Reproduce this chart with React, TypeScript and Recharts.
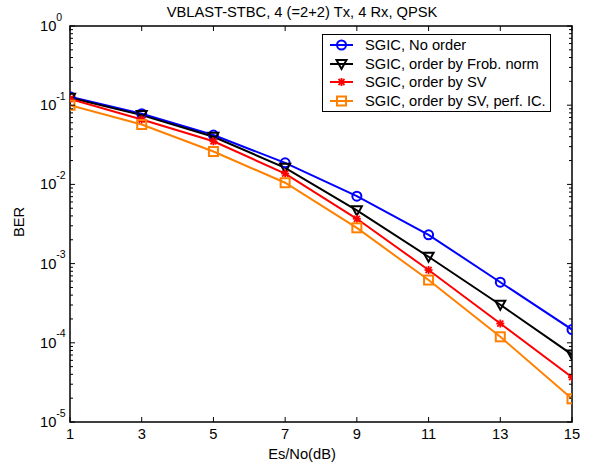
import React from "react";
import { LineChart, Line, XAxis, YAxis, Legend, ReferenceArea } from "recharts";

// Es/No points and BER curves
const snrDb = [1, 3, 5, 7, 9, 11, 13, 15];
const berNoOrder = [0.128, 0.078, 0.042, 0.0187, 0.0071, 0.00231, 0.000582, 0.000147];
const berFrobNorm = [0.124, 0.075, 0.04, 0.0162, 0.0047, 0.00122, 0.000302, 0.000071];
const berSv = [0.12, 0.066, 0.035, 0.0137, 0.00368, 0.00083, 0.000175, 0.0000368];
const berSvPerfIc = [0.1, 0.057, 0.026, 0.0105, 0.00283, 0.00062, 0.000119, 0.0000196];

const xTicks = [1, 3, 5, 7, 9, 11, 13, 15];
const yDecades = [1e-5, 1e-4, 1e-3, 1e-2, 1e-1, 1];
const minorSteps = [2, 3, 4, 5, 6, 7, 8, 9];

const seriesList = [
  { key: "noOrder", name: "SGIC, No order", color: "#0000ff", marker: "circle" },
  { key: "frob", name: "SGIC, order by Frob. norm", color: "#000000", marker: "triangle" },
  { key: "sv", name: "SGIC, order by SV", color: "#ff0000", marker: "star" },
  { key: "svPerf", name: "SGIC, order by SV, perf. IC.", color: "#ff8000", marker: "square" },
];

const data = snrDb.map((x, i) => ({
  x,
  noOrder: berNoOrder[i],
  frob: berFrobNorm[i],
  sv: berSv[i],
  svPerf: berSvPerfIc[i],
}));

const yTicks = [
  ...yDecades.slice(0, -1).flatMap((d) => [d, ...minorSteps.map((k) => k * d)]),
  1,
];

const FONT = '"Liberation Sans", Arial, sans-serif';
const FS = 14.7;
const W = 590;
const H = 467;
const PLOT_L = 70;
const PLOT_R = 572;
const PLOT_T = 26;
const PLOT_B = 422;

const isDecade = (v: number) => {
  const l = Math.log10(v);
  return Math.abs(l - Math.round(l)) < 1e-9;
};

function Marker({ type, cx, cy, color }: { type: string; cx: number; cy: number; color: string }) {
  if (cx == null || cy == null) return null;
  switch (type) {
    case "circle":
      return <circle cx={cx} cy={cy} r={4.5} fill="none" stroke={color} strokeWidth={2} />;
    case "triangle":
      return (
        <polygon
          points={`${cx - 5},${cy - 4} ${cx + 5},${cy - 4} ${cx},${cy + 5}`}
          fill="none"
          stroke={color}
          strokeWidth={2}
        />
      );
    case "square":
      return <rect x={cx - 4.5} y={cy - 4.5} width={9} height={9} fill="none" stroke={color} strokeWidth={2} />;
    default:
      return (
        <g stroke={color} strokeWidth={1.8}>
          <line x1={cx - 4} y1={cy} x2={cx + 4} y2={cy} />
          <line x1={cx} y1={cy - 4} x2={cx} y2={cy + 4} />
          <line x1={cx - 3} y1={cy - 3} x2={cx + 3} y2={cy + 3} />
          <line x1={cx - 3} y1={cy + 3} x2={cx + 3} y2={cy - 3} />
        </g>
      );
  }
}

const XTick = (props: any) => {
  const { x, payload } = props;
  return (
    <g>
      <line x1={x} y1={PLOT_B} x2={x} y2={PLOT_B - 5} stroke="#000" />
      <line x1={x} y1={PLOT_T} x2={x} y2={PLOT_T + 5} stroke="#000" />
      <text x={x} y={PLOT_B + 17} textAnchor="middle" fontSize={FS} fontFamily={FONT} fill="#000">
        {payload.value}
      </text>
    </g>
  );
};

const YTick = (props: any) => {
  const { y, payload } = props;
  const major = isDecade(payload.value);
  const len = major ? 5 : 3;
  return (
    <g>
      <line x1={PLOT_L} y1={y} x2={PLOT_L + len} y2={y} stroke="#000" />
      <line x1={PLOT_R} y1={y} x2={PLOT_R - len} y2={y} stroke="#000" />
      {major && (
        <text x={40} y={y + 5} fontSize={FS} fontFamily={FONT} fill="#000">
          10
          <tspan dy={-10.5} fontSize={10.5}>
            {Math.round(Math.log10(payload.value))}
          </tspan>
        </text>
      )}
    </g>
  );
};

const LegendBox = () => (
  <div
    style={{
      border: "1px solid #000",
      background: "#fff",
      padding: "1px 0",
      width: 227,
      fontFamily: FONT,
      fontSize: FS,
    }}
  >
    {seriesList.map((s) => (
      <div key={s.key} style={{ display: "flex", alignItems: "center", height: 18.6 }}>
        <svg width={40} height={18} style={{ flex: "none" }}>
          <line x1={7} y1={9} x2={30} y2={9} stroke={s.color} strokeWidth={2} />
          <Marker type={s.marker} cx={18.5} cy={9} color={s.color} />
        </svg>
        <span style={{ marginLeft: 2, lineHeight: "18px", whiteSpace: "nowrap" }}>{s.name}</span>
      </div>
    ))}
  </div>
);

export default function App() {
  return (
    <div style={{ position: "absolute", left: 0, top: 0, width: W, height: H, background: "#fff" }}>
      <LineChart
        width={W}
        height={H}
        data={data}
        margin={{ top: PLOT_T, right: W - PLOT_R, bottom: 0, left: 0 }}
      >
        <XAxis
          dataKey="x"
          type="number"
          domain={[1, 15]}
          ticks={xTicks}
          interval={0}
          height={H - PLOT_B}
          axisLine={false}
          tickLine={false}
          tick={<XTick />}
          allowDataOverflow
        />
        <YAxis
          type="number"
          scale="log"
          domain={[1e-5, 1]}
          ticks={yTicks}
          interval={0}
          width={PLOT_L}
          axisLine={false}
          tickLine={false}
          tick={<YTick />}
          allowDataOverflow
        />
        <ReferenceArea
          x1={1}
          x2={15}
          y1={1e-5}
          y2={1}
          fill="none"
          fillOpacity={0}
          stroke="#000"
          strokeWidth={1.5}
          ifOverflow="visible"
        />
        {seriesList.map((s) => (
          <Line
            key={s.key}
            dataKey={s.key}
            name={s.name}
            stroke={s.color}
            strokeWidth={2}
            isAnimationActive={false}
            dot={(p: any) => <Marker key={`${s.key}-${p.index}`} type={s.marker} cx={p.cx} cy={p.cy} color={s.color} />}
          />
        ))}
        <Legend
          layout="vertical"
          align="center"
          verticalAlign="middle"
          content={<LegendBox />}
          wrapperStyle={{ left: 322, top: 34, width: 229, height: "auto" }}
        />
      </LineChart>
      <svg
        width={W}
        height={H}
        style={{ position: "absolute", left: 0, top: 0, pointerEvents: "none" }}
        fontFamily={FONT}
        fontSize={FS}
      >
        <text x={302} y={17} textAnchor="middle" fill="#000">
          VBLAST-STBC, 4 (=2+2) Tx, 4 Rx, QPSK
        </text>
        <text x={302} y={459} textAnchor="middle" fill="#000">
          Es/No(dB)
        </text>
        <text x={24} y={222} textAnchor="middle" fill="#000" transform="rotate(-90, 24, 222)">
          BER
        </text>
      </svg>
    </div>
  );
}
